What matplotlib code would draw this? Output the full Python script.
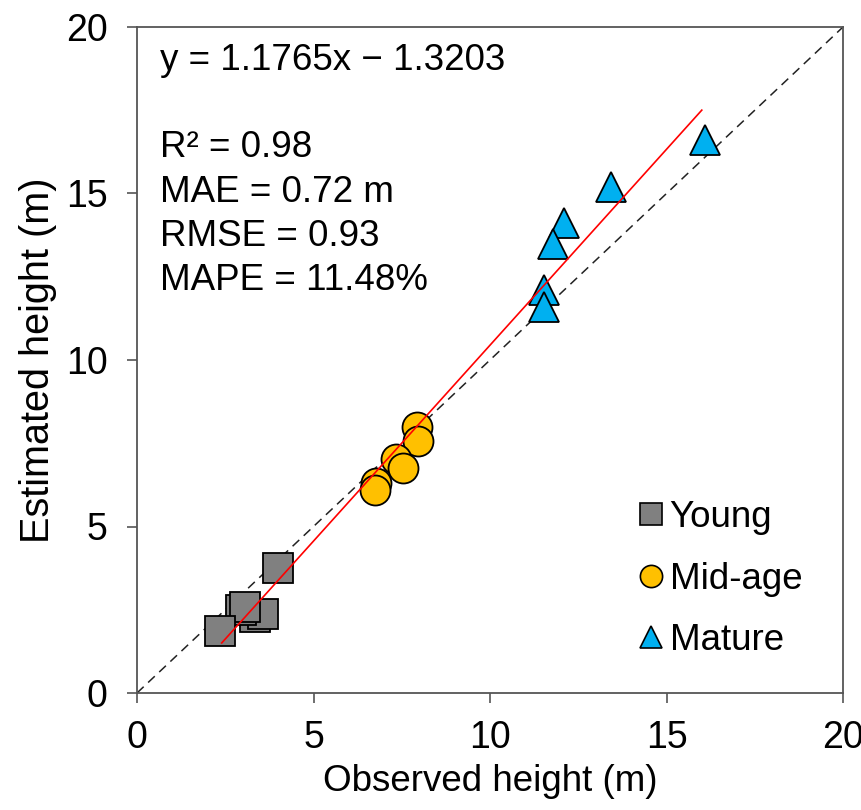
import matplotlib
matplotlib.use("Agg")
import matplotlib.pyplot as plt
import numpy as np
from matplotlib.lines import Line2D

plt.rcParams['font.family'] = ['Liberation Sans', 'DejaVu Sans']

# Data
young_x = [3.35, 3.58, 2.95, 3.07, 2.36, 4.00]
young_y = [2.28, 2.38, 2.50, 2.59, 1.86, 3.76]
mid_x = [7.93, 7.95, 7.33, 7.53, 6.76, 6.73]
mid_y = [8.00, 7.58, 7.04, 6.77, 6.32, 6.10]
mature_x = [16.10, 13.44, 12.10, 11.79, 11.53, 11.53]
mature_y = [16.60, 15.20, 14.10, 13.47, 12.09, 11.58]
slope, intercept = 1.1765, -1.3203
fit_range = [2.4, 16.0]
ticks = [0, 5, 10, 15, 20]
stats = ["R\u00b2 = 0.98", "MAE = 0.72 m", "RMSE = 0.93", "MAPE = 11.48%"]

fig = plt.figure(figsize=(8.61, 8.10), dpi=100)
ax = fig.add_axes([137/861, 1-693/810, 706/861, 666/810])

spine_c = '#555555'
for s in ax.spines.values():
    s.set_color(spine_c)
    s.set_linewidth(1.3)

# 1:1 line
ax.plot([0, 20], [0, 20], ls=(0, (6, 4)), color='#222222', lw=1.1, zorder=1)

ms = 21.6
for x, y in zip(young_x, young_y):
    ax.plot([x], [y], 's', ms=ms, mfc='#808080', mec='black', mew=1.3, zorder=2)
for x, y in zip(mid_x, mid_y):
    ax.plot([x], [y], 'o', ms=ms, mfc='#FFC000', mec='black', mew=1.3, zorder=2)
for x, y in zip(mature_x, mature_y):
    ax.plot([x], [y], '^', ms=ms, mfc='#00B0F0', mec='black', mew=1.3, zorder=2)

fx = np.array(fit_range)
ax.plot(fx, slope*fx + intercept, color='red', lw=1.2, zorder=3)

ax.set_xlim(0, 20)
ax.set_ylim(0, 20)
ax.set_xticks(ticks)
ax.set_yticks(ticks)
ax.tick_params(direction='out', length=7.2, width=1.2, color=spine_c,
               labelsize=27)
ax.tick_params(axis='x', pad=12)
ax.tick_params(axis='y', pad=14)
ax.set_xlabel("Observed height (m)", fontsize=26.5, labelpad=6)
ax.set_ylabel("Estimated height (m)", fontsize=28.5, labelpad=6)

ax.text(0.033, 0.935, f"y = {slope}x \u2212 {abs(intercept)}", transform=ax.transAxes,
        fontsize=26.5, va='baseline', ha='left')
for t, yy in zip(stats, [0.805, 0.737, 0.671, 0.605]):
    ax.text(0.033, yy, t, transform=ax.transAxes, fontsize=26.5, va='baseline', ha='left')

handles = [
    Line2D([], [], ls='none', marker='s', ms=16, mfc='#808080', mec='black', mew=1.2),
    Line2D([], [], ls='none', marker='o', ms=16, mfc='#FFC000', mec='black', mew=1.2),
    Line2D([], [], ls='none', marker='^', ms=16, mfc='#00B0F0', mec='black', mew=1.2),
]
ax.legend(handles, ["Young", "Mid-age", "Mature"], loc='upper left',
          bbox_to_anchor=(0.71, 0.2895), frameon=False, fontsize=26.5,
          handlelength=0.7, handletextpad=0.15, labelspacing=0.72,
          borderpad=0, borderaxespad=0)

fig.savefig("out.png", dpi=100)
